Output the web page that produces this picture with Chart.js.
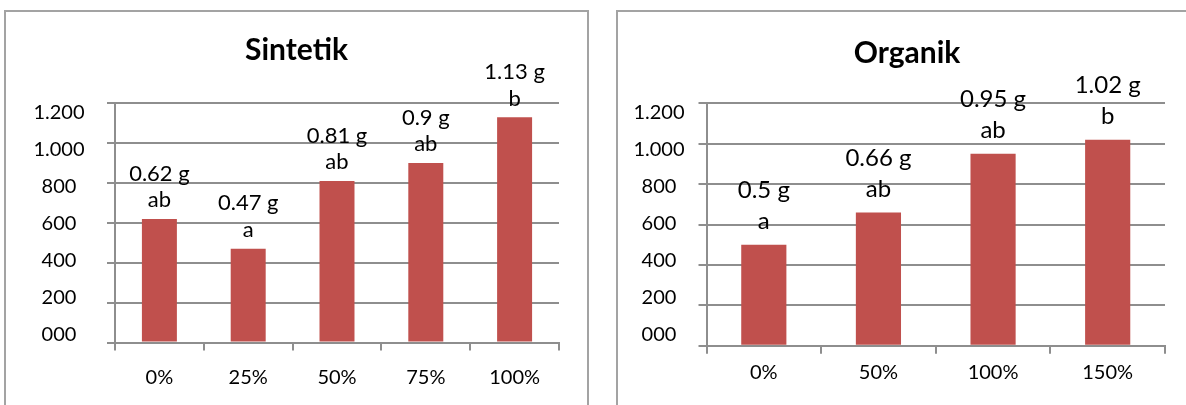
<!DOCTYPE html>
<html>
<head>
<meta charset="utf-8">
<script src="https://cdn.jsdelivr.net/npm/chart.js@4"></script>
<style>
  html, body { margin:0; padding:0; background:#fff; width:1186px; height:405px; overflow:hidden; position:relative; }
  .panel { position:absolute; top:10px; height:430px; border:2px solid #a3a3a3; box-sizing:border-box; }
  canvas { position:absolute; top:12px; }
</style>
</head>
<body>
<div class="panel" style="left:4px; width:585px;"></div>
<div class="panel" style="left:616px; width:582px;"></div>
<canvas id="c1" width="581" height="393" style="left:6px; width:581px; height:393px;"></canvas>
<canvas id="c2" width="578" height="393" style="left:618px; width:578px; height:393px;"></canvas>
<script>
// ---- data ----
const sintetikCategories = ['0%', '25%', '50%', '75%', '100%'];
const sintetikValues = [620, 470, 810, 900, 1130];
const sintetikMeans = ['0.62 g', '0.47 g', '0.81 g', '0.9 g', '1.13 g'];
const sintetikLetters = ['ab', 'a', 'ab', 'ab', 'b'];

const organikCategories = ['0%', '50%', '100%', '150%'];
const organikValues = [500, 660, 950, 1020];
const organikMeans = ['0.5 g', '0.66 g', '0.95 g', '1.02 g'];
const organikLetters = ['a', 'ab', 'ab', 'b'];

const yTickValues = [0, 200, 400, 600, 800, 1000, 1200];
const yTickLabels = ['000', '200', '400', '600', '800', '1.000', '1.200'];

// ---- styling ----
Chart.defaults.font.family = 'Lato';
Chart.defaults.color = '#000';
const GRID = '#8e8e8e';
const BAR = '#C0504D';

// value labels above bars (two lines: mean, significance letter)
const barLabels = {
  id: 'barLabels',
  afterDatasetsDraw(chart, args, opts) {
    const ctx = chart.ctx;
    const meta = chart.getDatasetMeta(0);
    ctx.save();
    ctx.font = opts.size + 'px Lato';
    ctx.fillStyle = '#000';
    ctx.textAlign = 'center';
    ctx.textBaseline = 'alphabetic';
    meta.data.forEach((bar, i) => {
      ctx.fillText(opts.means[i], bar.x, bar.y - opts.gap1);
      ctx.fillText(opts.letters[i], bar.x, bar.y - opts.gap2);
    });
    ctx.restore();
  }
};

// y tick labels, centred in the label column, placed through the yLab scale
const yLabels = {
  id: 'yLabels',
  afterDraw(chart, args, opts) {
    const ctx = chart.ctx;
    const s = chart.scales.yLab;
    ctx.save();
    ctx.font = '20px Lato';
    ctx.fillStyle = '#000';
    ctx.textAlign = 'center';
    ctx.textBaseline = 'middle';
    yTickValues.forEach((v, i) => {
      ctx.fillText(yTickLabels[i], opts.x, s.getPixelForValue(v));
    });
    ctx.restore();
  }
};

function makeChart(id, cfg) {
  return new Chart(document.getElementById(id), {
    type: 'bar',
    data: {
      labels: cfg.categories,
      datasets: [{
        data: cfg.values,
        backgroundColor: BAR,
        borderWidth: 0,
        categoryPercentage: 1,
        barPercentage: 0.394,
        yAxisID: 'y'
      }]
    },
    plugins: [barLabels, yLabels],
    options: {
      responsive: false,
      animation: false,
      devicePixelRatio: 1,
      layout: { padding: { left: cfg.side, right: cfg.side, top: 0, bottom: 0 } },
      plugins: {
        legend: { display: false },
        tooltip: { enabled: false },
        title: {
          display: true,
          text: cfg.title,
          font: { size: 30, weight: 'bold', family: 'Lato' },
          color: '#000',
          padding: { top: cfg.titleTop, bottom: cfg.titleBottom }
        },
        barLabels: {
          means: cfg.means,
          letters: cfg.letters,
          size: cfg.labelSize,
          gap1: cfg.gap1,
          gap2: cfg.gap2
        },
        yLabels: { x: cfg.yLabelX }
      },
      scales: {
        x: {
          offset: true,
          grid: { drawOnChartArea: false, offset: true, tickLength: 8, color: GRID, lineWidth: 2 },
          border: { color: GRID, width: 2 },
          ticks: { padding: cfg.xPad, font: { size: 20 }, color: '#000', maxRotation: 0, autoSkip: false },
          afterFit: s => { s.height = cfg.xHeight; }
        },
        y: {
          position: 'left',
          min: 0,
          max: 1200,
          ticks: { stepSize: 200, display: false },
          grid: { color: GRID, lineWidth: 2, tickLength: 8 },
          border: { color: GRID, width: 2 },
          afterFit: s => { s.width = cfg.yWidth; }
        },
        yLab: {
          type: 'linear',
          position: 'left',
          display: false,
          min: cfg.labMin,
          max: cfg.labMax
        }
      }
    }
  });
}

makeChart('c1', {
  title: 'Sintetik',
  categories: sintetikCategories,
  values: sintetikValues,
  means: sintetikMeans,
  letters: sintetikLetters,
  side: 28,
  yWidth: 81,
  yLabelX: 53,
  titleTop: 20.1,
  titleBottom: 35.2,
  labelSize: 22,
  gap1: 38.4,
  gap2: 11.7,
  xPad: 15,
  xHeight: 62.5,
  labMin: -40.5,
  labMax: 1250.7
});

makeChart('c2', {
  title: 'Organik',
  categories: organikCategories,
  values: organikValues,
  means: organikMeans,
  letters: organikLetters,
  side: 31,
  yWidth: 57.5,
  yLabelX: 41,
  titleTop: 23.4,
  titleBottom: 31.9,
  labelSize: 24,
  gap1: 46.5,
  gap2: 15.4,
  xPad: 7.3,
  xHeight: 59.3,
  labMin: -57.8,
  labMax: 1250.7
});
</script>
</body>
</html>
